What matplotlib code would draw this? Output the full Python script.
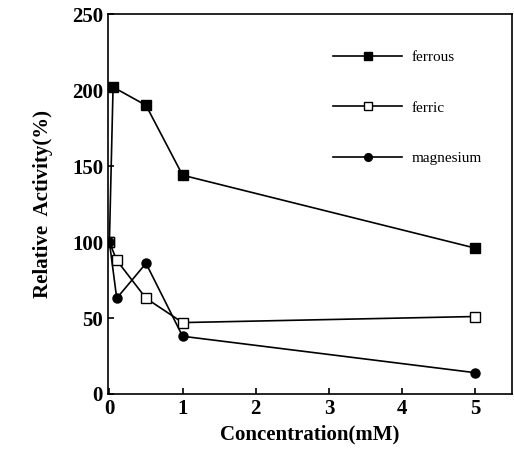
import matplotlib
matplotlib.use("Agg")
import matplotlib.pyplot as plt

conc_ferrous = [0, 0.05, 0.5, 1, 5]
ferrous = [100, 202, 190, 144, 96]
conc_ferric = [0, 0.1, 0.5, 1, 5]
ferric = [100, 88, 63, 47, 51]
conc_mg = [0, 0.1, 0.5, 1, 5]
magnesium = [100, 63, 86, 38, 14]

plt.rcParams['font.family'] = ['Liberation Serif', 'DejaVu Serif']

fig = plt.figure(figsize=(5.14, 4.49), dpi=100)
ax = fig.add_axes([0.21, 0.1225, 0.786, 0.846])

ax.plot(conc_ferrous, ferrous, '-s', color='black', markersize=6.5, linewidth=1.2,
        markerfacecolor='black', label='ferrous')
ax.plot(conc_ferric, ferric, '-s', color='black', markersize=6.5, linewidth=1.2,
        markerfacecolor='white', label='ferric')
ax.plot(conc_mg, magnesium, '-o', color='black', markersize=6.5, linewidth=1.2,
        markerfacecolor='black', label='magnesium')

ax.set_xlim(-0.02, 5.5)
ax.set_ylim(0, 250)
ax.set_xticks([0, 1, 2, 3, 4, 5])
ax.set_yticks([0, 50, 100, 150, 200, 250])
ax.tick_params(direction='in', length=4, labelsize=15, width=1.2)
for lab in ax.get_xticklabels() + ax.get_yticklabels():
    lab.set_fontweight('bold')
for s in ax.spines.values():
    s.set_linewidth(1.2)

ax.set_xlabel('Concentration(mM)', fontsize=15, fontweight='bold', labelpad=4)
ax.set_ylabel('Relative  Activity(%)', fontsize=15, fontweight='bold', labelpad=14)

ax.legend(loc='upper right', frameon=False, fontsize=11, handlelength=4.5,
          handletextpad=0.6, labelspacing=2.4, bbox_to_anchor=(0.94, 0.92),
          borderaxespad=0.0, markerscale=0.85)

fig.savefig('out.png', dpi=100)
